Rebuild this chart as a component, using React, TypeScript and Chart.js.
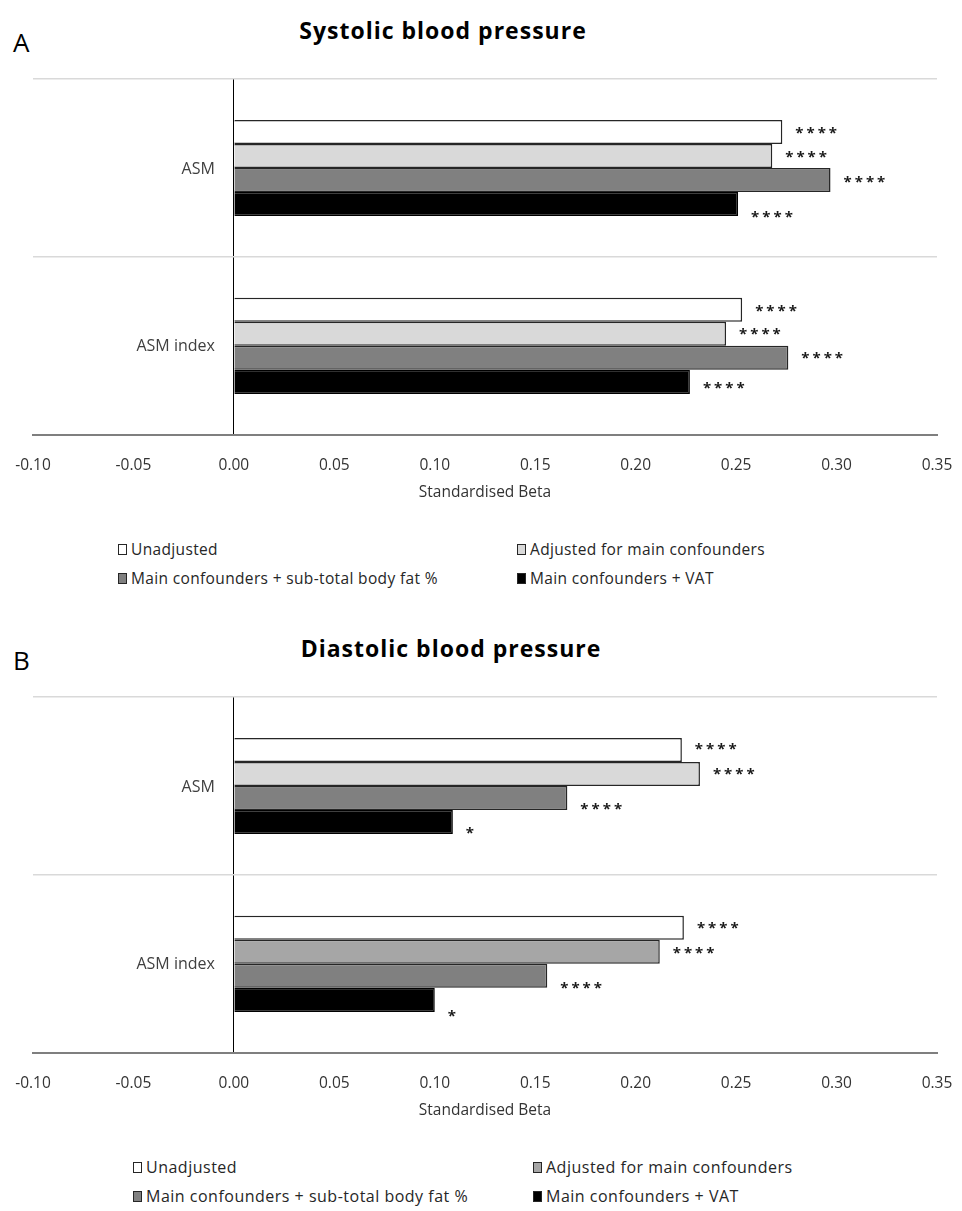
import React, { useEffect, useRef } from "react";
import { Chart, registerables } from "chart.js";

Chart.register(...registerables);

const FONT = "'Open Sans', Lato, 'Liberation Sans', sans-serif";

// ---------- data ----------
const categories = ["ASM", "ASM index"];
const seriesNames = [
  "Unadjusted",
  "Adjusted for main confounders",
  "Main confounders + sub-total body fat %",
  "Main confounders + VAT",
];
const xTickValues = [-0.1, -0.05, 0, 0.05, 0.1, 0.15, 0.2, 0.25, 0.3, 0.35];
const xAxisTitle = "Standardised Beta";

// Panel A: systolic blood pressure
const sbpUnadjusted = [0.273, 0.253];
const sbpAdjusted = [0.268, 0.245];
const sbpBodyFat = [0.297, 0.276];
const sbpVat = [0.251, 0.227];
const sbpStars = [
  ["****", "****"],
  ["****", "****"],
  ["****", "****"],
  ["****", "****"],
];

// Panel B: diastolic blood pressure
const dbpUnadjusted = [0.223, 0.224];
const dbpAdjusted = [0.232, 0.212];
const dbpBodyFat = [0.166, 0.156];
const dbpVat = [0.109, 0.1];
const dbpStars = [
  ["****", "****"],
  ["****", "****"],
  ["****", "****"],
  ["*", "*"],
];

// ---------- styles ----------
const sbpBarColors = [
  ["#ffffff", "#ffffff"],
  ["#d9d9d9", "#d9d9d9"],
  ["#808080", "#808080"],
  ["#000000", "#000000"],
];
const dbpBarColors = [
  ["#ffffff", "#ffffff"],
  ["#d9d9d9", "#a6a6a6"],
  ["#808080", "#808080"],
  ["#000000", "#000000"],
];
const sbpLegendColors = ["#ffffff", "#d9d9d9", "#808080", "#000000"];
const dbpLegendColors = ["#ffffff", "#a6a6a6", "#808080", "#000000"];
const sbpStarDy = [
  [-2, -2],
  [-2, -3],
  [-1, -3],
  [10, 3],
];
const dbpStarDy = [
  [-4, -3],
  [-3, -2],
  [8, 9],
  [8, 13],
];

type PanelProps = {
  top: number;
  letter: string;
  title: string;
  titleCenter: number;
  series: number[][];
  colors: string[][];
  stars: string[][];
  starDy: number[][];
  legendColors: string[];
  legendCols: number[];
  legendFont: number;
  legendSpacing: number;
};

function Panel(p: PanelProps) {
  const ref = useRef<HTMLCanvasElement | null>(null);

  useEffect(() => {
    if (!ref.current) return;
    const starPlugin = {
      id: "extras",
      afterDatasetsDraw(chart: any) {
        const ctx = chart.ctx;
        ctx.save();
        ctx.fillStyle = "#1a1a1a";
        ctx.font = `bold 15px ${FONT}`;
        (ctx as any).letterSpacing = "3px";
        ctx.textAlign = "left";
        ctx.textBaseline = "middle";
        p.series.forEach((_, i) => {
          const meta = chart.getDatasetMeta(i);
          meta.data.forEach((el: any, j: number) => {
            ctx.fillText(p.stars[i][j], el.x + 13, el.y + 4 + p.starDy[i][j]);
          });
        });
        (ctx as any).letterSpacing = "0px";
        const xs = chart.scales.x;
        const ys = chart.scales.y;
        ctx.fillStyle = "#404040";
        ctx.font = `16px ${FONT}`;
        ctx.textAlign = "right";
        categories.forEach((c, i) => {
          ctx.fillText(c, xs.getPixelForValue(0) - 19, ys.getPixelForValue(i) + 1);
        });
        ctx.restore();
      },
    };

    const chart = new Chart(ref.current, {
      type: "bar",
      data: {
        labels: categories,
        datasets: p.series.map((v, i) => ({
          label: seriesNames[i],
          data: v,
          backgroundColor: p.colors[i],
          borderColor: i === 3 ? "#000000" : "#262626",
          borderWidth: 1.5,
          categoryPercentage: 0.54,
          barPercentage: 1.0,
        })),
      },
      options: {
        indexAxis: "y",
        responsive: false,
        animation: false,
        layout: { padding: { left: 33, right: 25, top: 79, bottom: 4 } },
        plugins: {
          legend: { display: false },
          title: { display: false },
          tooltip: { enabled: false },
        },
        scales: {
          x: {
            type: "linear",
            min: -0.1,
            max: 0.35,
            afterBuildTicks: (s: any) => {
              s.ticks = xTickValues.map((v) => ({ value: v }));
            },
            grid: {
              display: true,
              drawTicks: true,
              tickLength: 21,
              tickColor: "rgba(0,0,0,0)",
              color: (ctx: any) =>
                ctx.tick && Math.abs(ctx.tick.value) < 1e-9 ? "#000000" : "rgba(0,0,0,0)",
              lineWidth: 1,
            },
            border: { display: true, color: "#7f7f7f", width: 2 },
            ticks: {
              padding: 0,
              autoSkip: false,
              maxRotation: 0,
              color: "#333333",
              font: { family: FONT, size: 15.5 },
              callback: (v: any) => Number(v).toFixed(2),
            },
            title: {
              display: true,
              text: xAxisTitle,
              color: "#333333",
              font: { family: FONT, size: 15.5 },
              padding: { top: 9, bottom: 4 },
            },
          },
          y: {
            type: "category",
            position: "left",
            ticks: { display: false },
            grid: { color: "#d9d9d9", lineWidth: 1.5, drawTicks: false, offset: true },
            border: { display: false },
          },
        },
      },
      plugins: [starPlugin],
    } as any);
    return () => chart.destroy();
  }, []);

  const legendRows = [
    [0, 1],
    [2, 3],
  ];

  return (
    <div style={{ position: "absolute", left: 0, top: p.top, width: 962, height: 618 }}>
      <div
        style={{
          position: "absolute",
          left: 13,
          top: 27,
          fontFamily: FONT,
          fontSize: 26,
          color: "#000",
          lineHeight: "30px",
        }}
      >
        {p.letter}
      </div>
      <div
        style={{
          position: "absolute",
          left: p.titleCenter - 300,
          width: 600,
          top: 15,
          textAlign: "center",
          fontFamily: FONT,
          fontWeight: 700,
          fontSize: 23,
          letterSpacing: "1px",
          lineHeight: "30px",
          color: "#000",
        }}
      >
        {p.title}
      </div>
      <canvas
        ref={ref}
        width={962}
        height={510}
        style={{ position: "absolute", left: 0, top: 0, width: 962, height: 510 }}
      />
      {legendRows.map((row, r) =>
        row.map((si, c) => (
          <div
            key={`${r}-${c}`}
            style={{
              position: "absolute",
              left: p.legendCols[c],
              top: 549 + r * 29 - 10,
              height: 20,
              display: "flex",
              alignItems: "center",
              fontFamily: FONT,
              fontSize: p.legendFont,
              letterSpacing: `${p.legendSpacing}px`,
              color: "#262626",
              whiteSpace: "nowrap",
            }}
          >
            <span
              style={{
                display: "inline-block",
                width: 7,
                height: 9,
                border: "1.5px solid #262626",
                background: p.legendColors[si],
                marginRight: 4,
              }}
            />
            <span>{seriesNames[si]}</span>
          </div>
        ))
      )}
    </div>
  );
}

export default function App() {
  return (
    <div
      style={{
        position: "absolute",
        left: 0,
        top: 0,
        width: 962,
        height: 1211,
        background: "#ffffff",
        overflow: "hidden",
      }}
    >
      <Panel
        top={0}
        letter="A"
        title="Systolic blood pressure"
        titleCenter={443}
        series={[sbpUnadjusted, sbpAdjusted, sbpBodyFat, sbpVat]}
        colors={sbpBarColors}
        stars={sbpStars}
        starDy={sbpStarDy}
        legendColors={sbpLegendColors}
        legendCols={[118, 517]}
        legendFont={15.5}
        legendSpacing={0.35}
      />
      <Panel
        top={618}
        letter="B"
        title="Diastolic blood pressure"
        titleCenter={451}
        series={[dbpUnadjusted, dbpAdjusted, dbpBodyFat, dbpVat]}
        colors={dbpBarColors}
        stars={dbpStars}
        starDy={dbpStarDy}
        legendColors={dbpLegendColors}
        legendCols={[133, 533]}
        legendFont={16}
        legendSpacing={0.5}
      />
    </div>
  );
}
